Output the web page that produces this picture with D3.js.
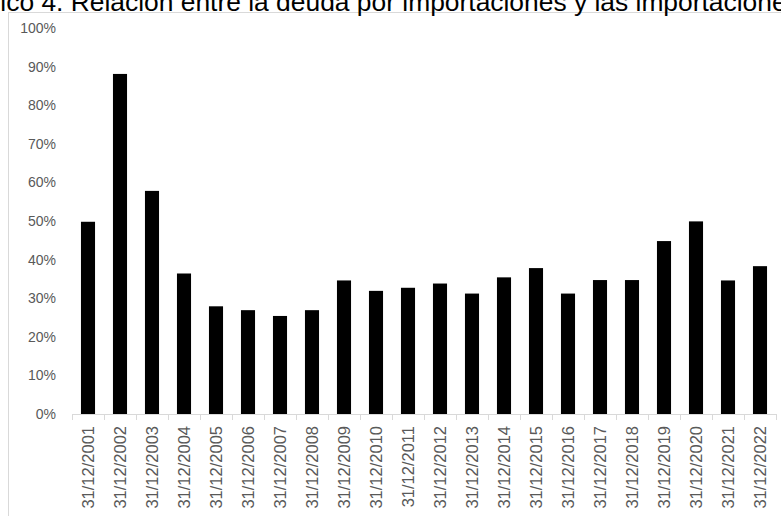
<!DOCTYPE html>
<html>
<head>
<meta charset="utf-8">
<script src="https://cdn.jsdelivr.net/npm/d3@7"></script>
<style>
  body { margin: 0; background: #fff; }
  svg { display: block; font-family: "Liberation Sans", Arial, sans-serif; }
</style>
</head>
<body>
<svg id="chart"></svg>
<script>
var chartWidth = 781;
var chartHeight = 516;

var dates = ['31/12/2001', '31/12/2002', '31/12/2003', '31/12/2004', '31/12/2005', '31/12/2006',
  '31/12/2007', '31/12/2008', '31/12/2009', '31/12/2010', '31/12/2011', '31/12/2012',
  '31/12/2013', '31/12/2014', '31/12/2015', '31/12/2016', '31/12/2017', '31/12/2018',
  '31/12/2019', '31/12/2020', '31/12/2021', '31/12/2022'];
var ratios = [0.498, 0.881, 0.578, 0.364, 0.279, 0.269, 0.254, 0.269, 0.346, 0.319, 0.327, 0.338,
  0.312, 0.354, 0.378, 0.312, 0.347, 0.347, 0.448, 0.499, 0.346, 0.383];
var yTicks = [0, 0.1, 0.2, 0.3, 0.4, 0.5, 0.6, 0.7, 0.8, 0.9, 1];
var title = 'Gráfico 4. Relación entre la deuda por importaciones y las importaciones';

var svg = d3.select('#chart')
  .attr('width', chartWidth)
  .attr('height', chartHeight);

// chart area frame (runs off the right and bottom edges)
svg.append('rect')
  .attr('x', 8.5)
  .attr('y', 12.5)
  .attr('width', 800)
  .attr('height', 600)
  .attr('fill', 'none')
  .attr('stroke', '#d9d9d9');

var xScale = d3.scaleBand()
  .domain(dates)
  .range([72, 776])
  .paddingInner(0.56)
  .paddingOuter(0.28);

var yScale = d3.scaleLinear()
  .domain([0, 1])
  .range([414, 28]);

svg.selectAll('rect.bar')
  .data(dates.map(function(d, i) { return {date: d, value: ratios[i]}; }))
  .enter()
  .append('rect')
    .classed('bar', true)
    .attr('x', function(d) { return xScale(d.date); })
    .attr('width', xScale.bandwidth())
    .attr('y', function(d) { return yScale(d.value); })
    .attr('height', function(d) { return yScale(0) - yScale(d.value); })
    .attr('fill', '#000');

// y axis: labels only
var yAxis = d3.axisLeft(yScale)
  .tickValues(yTicks)
  .tickFormat(d3.format('.0%'))
  .tickSize(0)
  .tickPadding(0);

var yG = svg.append('g')
  .attr('transform', 'translate(56, 0)')
  .call(yAxis);
yG.select('.domain').remove();
yG.selectAll('text')
  .attr('fill', '#595959')
  .attr('font-size', '14px')
  .attr('font-family', '"Liberation Sans", Arial, sans-serif');

// x axis line + ticks between categories
var step = xScale.step();
var bounds = d3.range(dates.length + 1).map(function(i) { return 72 + i * step; });

svg.append('line')
  .attr('x1', 72)
  .attr('x2', 72 + dates.length * step)
  .attr('y1', 414.5)
  .attr('y2', 414.5)
  .attr('stroke', '#d9d9d9');

svg.selectAll('line.tick-mark')
  .data(bounds)
  .enter()
  .append('line')
    .classed('tick-mark', true)
    .attr('x1', function(d) { return d + 0.5; })
    .attr('x2', function(d) { return d + 0.5; })
    .attr('y1', 414)
    .attr('y2', 420)
    .attr('stroke', '#d9d9d9');

svg.selectAll('text.x-label')
  .data(dates)
  .enter()
  .append('text')
    .classed('x-label', true)
    .attr('transform', function(d) {
      return 'translate(' + (xScale(d) + xScale.bandwidth() / 2) + ', 426) rotate(-90)';
    })
    .attr('dy', '0.35em')
    .attr('text-anchor', 'end')
    .attr('fill', '#595959')
    .attr('font-size', '16.5px')
    .text(function(d) { return d; });

// title is cropped on both sides in the reference
svg.append('text')
  .attr('x', -51)
  .attr('y', 10.5)
  .attr('font-size', '26.4px')
  .attr('fill', '#000')
  .text(title);
</script>
</body>
</html>
